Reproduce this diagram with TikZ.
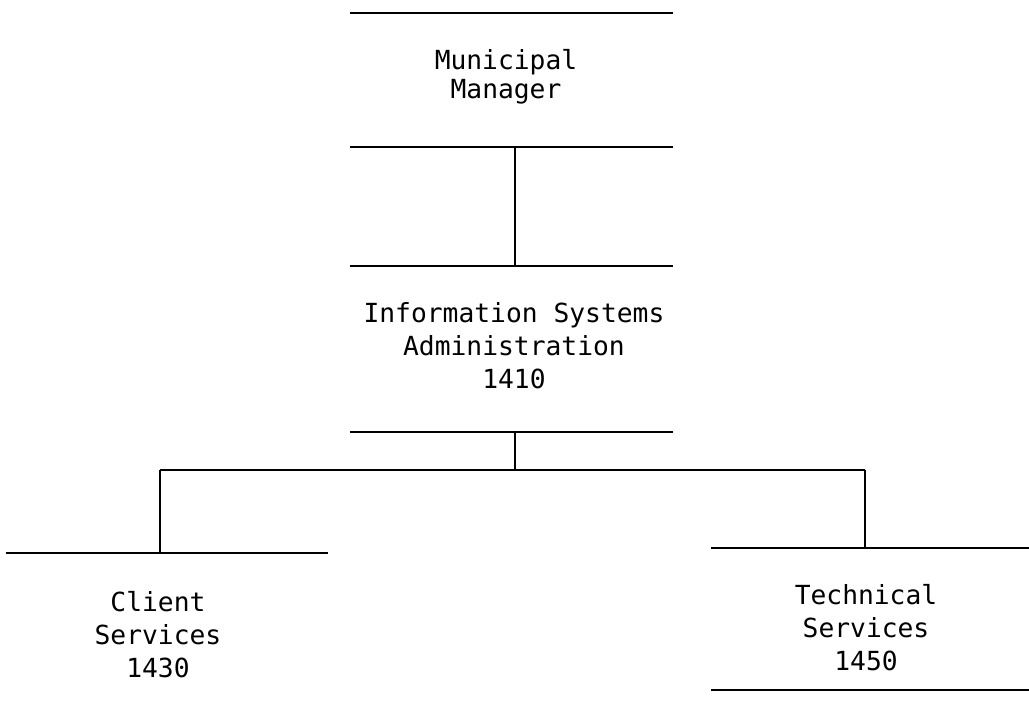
\documentclass[tikz,border=0pt]{standalone}
\usepackage{fontspec}
\newfontfamily\chartmono{DejaVu Sans Mono}
\begin{document}
\begin{tikzpicture}[x=1pt,y=-1pt,
  rule/.style={line width=1.6pt, line cap=butt},
  slot/.style={rectangle, inner sep=0pt, draw=none},
  label/.style={inner sep=0pt, align=center, font=\chartmono\fontsize{26.3}{33}\selectfont},
  link/.style={line width=1.4pt}]
\useasboundingbox (0,0) rectangle (1029,719);
% boxes (open boxes: only top and bottom rules)
\node[slot, minimum width=323pt, minimum height=134pt] (mm)  at (511.5,80) {};
\node[slot, minimum width=323pt, minimum height=166pt] (isa) at (511.5,349) {};
\node[slot, minimum width=322pt, minimum height=1pt]   (cs)  at (167,553) {};
\node[slot, minimum width=318pt, minimum height=142pt] (ts)  at (870,619) {};
\draw[rule] (mm.north west) -- (mm.north east);
\draw[rule] (mm.south west) -- (mm.south east);
\draw[rule] (isa.north west) -- (isa.north east);
\draw[rule] (isa.south west) -- (isa.south east);
\draw[rule] (cs.west) -- (cs.east);
\draw[rule] (ts.north west) -- (ts.north east);
\draw[rule] (ts.south west) -- (ts.south east);
% texts
\node[label, font=\chartmono\fontsize{26.3}{29}\selectfont] (mmt) at (506,77) {Municipal\\Manager};
\node[label] (isat) at (514,346) {Information Systems\\Administration\\1410};
\node[label] (cst) at (158,635) {Client\\Services\\1430};
\node[label] (tst) at (866,628) {Technical\\Services\\1450};
% connectors
\coordinate (j) at (515,470);
\draw[link] (mm.south -| j) -- (isa.north -| j);
\draw[link] (isa.south -| j) -- (j);
\coordinate (jl) at (160,470);
\coordinate (jr) at (865,470);
\draw[link] (jl) -- (jr);
\draw[link] (jl) -- (cs.center -| jl);
\draw[link] (jr) -- (ts.north -| jr);
\end{tikzpicture}
\end{document}
